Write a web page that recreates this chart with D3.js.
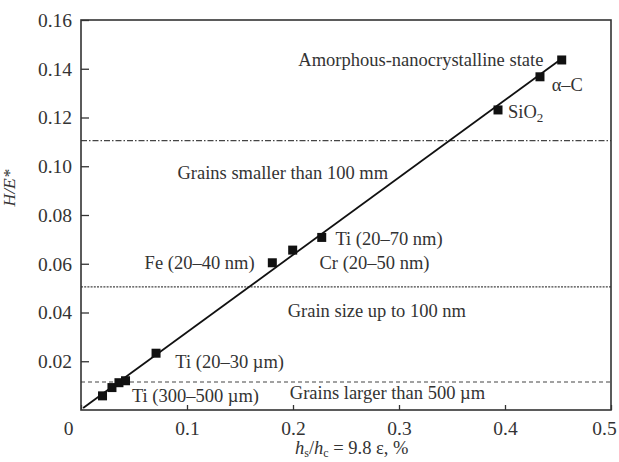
<!DOCTYPE html>
<html>
<head>
    <meta charset="utf-8">
    <script src="https://cdn.jsdelivr.net/npm/d3@7"></script>
    <style>
        * { margin: 0; padding: 0; }
        body { background: #fff; overflow: hidden; }
        text { font-family: "Liberation Serif", "DejaVu Serif", serif; fill: #333; }
    </style>
</head>
<body>
<div id="chart"></div>
<script>
    // measured points (hs/hc, H/E*)
    const pointX = [0.4535, 0.433, 0.3934, 0.2271, 0.1997, 0.1805, 0.0708, 0.0203, 0.0292, 0.0358, 0.042]
    const pointY = [0.1436, 0.1367, 0.1231, 0.0708, 0.0656, 0.0604, 0.0233, 0.0058, 0.0092, 0.0112, 0.012]

    // fitted straight line
    const fitX = [0.002, 0.454]
    const fitY = [0.0008, 0.1443]

    // boundary levels
    const levels = [0.1105, 0.0505, 0.0115]
    const levelDash = ['6,2,1.5,2', '2,1.2', '4,3']

    const xTicks = [0, 0.1, 0.2, 0.3, 0.4, 0.5]
    const yTicks = [0.02, 0.04, 0.06, 0.08, 0.10, 0.12, 0.14, 0.16]

    // annotation text, anchored in data units
    const noteText = ['Amorphous-nanocrystalline state', 'α–C', 'Grains smaller than 100 mm', 'Fe (20–40 nm)',
        'Ti (20–70 nm)', 'Cr (20–50 nm)', 'Grain size up to 100 nm', 'Ti (20–30 µm)', 'Ti (300–500 µm)',
        'Grains larger than 500 µm']
    const noteX = [0.205, 0.444, 0.091, 0.060, 0.240, 0.225, 0.195, 0.089, 0.048, 0.197]
    const noteY = [0.141, 0.131, 0.0948, 0.058, 0.0678, 0.058, 0.0382, 0.0172, 0.0031, 0.0045]

    const W = 619, H = 462
    const mLeft = 81, mRight = 611, mTop = 20, mBottom = 410

    const x = d3.scaleLinear().domain([0, 0.5]).range([mLeft, mRight])
    const y = d3.scaleLinear().domain([0, 0.16]).range([mBottom, mTop])

    const svg = d3.select('#chart').append('svg')
        .attr('width', W).attr('height', H)

    // boundary lines
    svg.selectAll('.level').data(levels).enter().append('line')
        .attr('x1', mLeft).attr('x2', mRight)
        .attr('y1', d => y(d)).attr('y2', d => y(d))
        .attr('stroke', '#444').attr('stroke-width', 1.1)
        .attr('stroke-dasharray', (d, i) => levelDash[i])

    // axes
    const yAxis = d3.axisLeft(y).tickValues(yTicks).tickSizeInner(-8).tickSizeOuter(0)
        .tickPadding(9).tickFormat(d3.format('.2f'))
    const gy = svg.append('g').attr('transform', `translate(${mLeft},0)`).call(yAxis)

    const xAxis = d3.axisBottom(x).tickValues(xTicks).tickSizeInner(-5).tickSizeOuter(0)
        .tickPadding(11).tickFormat(d => d === 0 ? '0' : d3.format('.1f')(d))
    const gx = svg.append('g').attr('transform', `translate(0,${mBottom})`).call(xAxis)

    for (const g of [gx, gy]) {
        g.select('.domain').remove()
        g.selectAll('line').attr('stroke', '#333').attr('stroke-width', 1.3)
        g.selectAll('text').attr('font-size', 19.5).attr('fill', '#333')
            .style('font-family', '"Liberation Serif", serif')
    }
    // origin label and last label shifted like in the original figure
    gx.selectAll('.tick text').filter(d => d === 0).attr('x', -13)
    gx.selectAll('.tick text').filter(d => d === 0.5).attr('x', -7)

    // frame
    svg.append('rect')
        .attr('x', mLeft).attr('y', mTop)
        .attr('width', mRight - mLeft).attr('height', mBottom - mTop)
        .attr('fill', 'none').attr('stroke', '#333').attr('stroke-width', 1.6)

    // fitted line
    svg.append('line')
        .attr('x1', x(fitX[0])).attr('y1', y(fitY[0]))
        .attr('x2', x(fitX[1])).attr('y2', y(fitY[1]))
        .attr('stroke', '#111').attr('stroke-width', 1.8)

    // points
    const s = 9
    svg.selectAll('.pt').data(pointX).enter().append('rect')
        .attr('x', d => x(d) - s / 2)
        .attr('y', (d, i) => y(pointY[i]) - s / 2)
        .attr('width', s).attr('height', s)
        .attr('fill', '#111')

    // annotations
    svg.selectAll('.note').data(noteText).enter().append('text')
        .attr('x', (d, i) => x(noteX[i]))
        .attr('y', (d, i) => y(noteY[i]))
        .attr('font-size', 18.5)
        .text(d => d)

    // SiO2 with subscript
    const sio = svg.append('text').attr('x', x(0.4028)).attr('y', y(0.1198)).attr('font-size', 18.5)
    sio.append('tspan').text('SiO')
    sio.append('tspan').attr('font-size', 13).attr('dy', 4).text('2')

    // y title
    svg.append('text')
        .attr('transform', `translate(15,188) rotate(-90)`)
        .attr('text-anchor', 'middle')
        .attr('font-size', 17.5).attr('font-style', 'italic')
        .text('H/E*')

    // x title
    const xt = svg.append('text').attr('x', 295).attr('y', 454).attr('font-size', 18.5)
    xt.append('tspan').attr('font-style', 'italic').text('h')
    xt.append('tspan').attr('font-size', 12).attr('dy', 3).text('s')
    xt.append('tspan').attr('dy', -3).text('/')
    xt.append('tspan').attr('font-style', 'italic').text('h')
    xt.append('tspan').attr('font-size', 12).attr('dy', 3).text('c')
    xt.append('tspan').attr('dy', -3).text(' = 9.8 ε, %')
</script>
</body>
</html>
